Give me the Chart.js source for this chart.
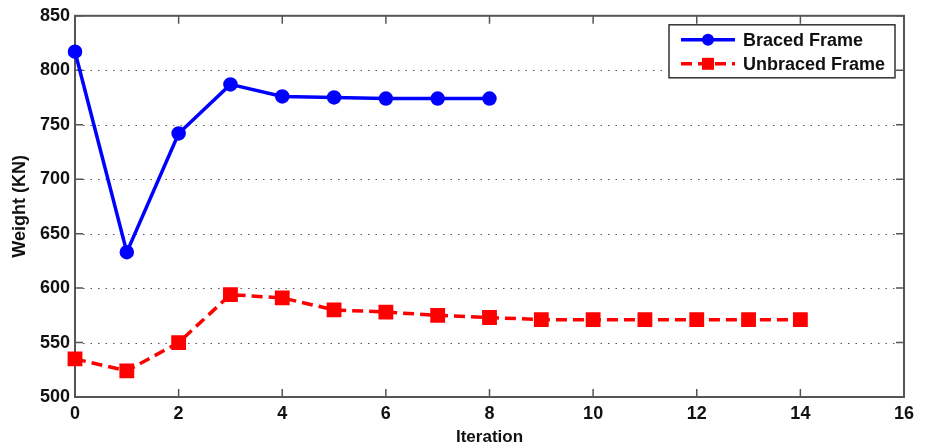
<!DOCTYPE html>
<html>
<head>
<meta charset="utf-8">
<script src="https://cdn.jsdelivr.net/npm/chart.js@4"></script>
<style>
  html, body { margin: 0; padding: 0; background: #fff; }
  #wrap { width: 930px; height: 448px; position: relative; }
</style>
</head>
<body>
<div id="wrap"><canvas id="weightChart"></canvas></div>
<script>
// Data
const iterations = [0, 1, 2, 3, 4, 5, 6, 7, 8, 9, 10, 11, 12, 13, 14];
const bracedWeight = [817, 633, 742, 787, 776, 775, 774, 774, 774];
const unbracedWeight = [535, 524, 550, 594, 591, 580, 578, 575, 573, 571, 571, 571, 571, 571, 571];
const seriesNames = ['Braced Frame', 'Unbraced Frame'];
const xTicks = [0, 2, 4, 6, 8, 10, 12, 14, 16];
const yTicks = [500, 550, 600, 650, 700, 750, 800, 850];

const FONT = 'Liberation Sans, Arial, Helvetica, sans-serif';

function toPoints(values) {
    return values.map((v, i) => ({ x: iterations[i], y: v }));
}

// Frame, inward ticks and dotted grid, matlab style
const framePlugin = {
    id: 'frame',
    beforeDatasetsDraw(chart) {
        const { ctx, chartArea: a, scales } = chart;
        const xs = scales.x, ys = scales.y;
        const tick = 8;
        ctx.save();
        // dotted horizontal grid
        ctx.strokeStyle = '#555';
        ctx.lineWidth = 1.2;
        ctx.setLineDash([1.5, 6]);
        yTicks.slice(1, -1).forEach(v => {
            const y = Math.round(ys.getPixelForValue(v)) + 0.5;
            ctx.beginPath();
            ctx.moveTo(a.left + tick, y);
            ctx.lineTo(a.right - tick, y);
            ctx.stroke();
        });
        ctx.setLineDash([]);
        // ticks
        ctx.strokeStyle = '#555';
        ctx.lineWidth = 1.5;
        xTicks.forEach(v => {
            const x = xs.getPixelForValue(v);
            ctx.beginPath();
            ctx.moveTo(x, a.bottom); ctx.lineTo(x, a.bottom - tick);
            ctx.moveTo(x, a.top); ctx.lineTo(x, a.top + tick);
            ctx.stroke();
        });
        yTicks.forEach(v => {
            const y = ys.getPixelForValue(v);
            ctx.beginPath();
            ctx.moveTo(a.left, y); ctx.lineTo(a.left + tick, y);
            ctx.moveTo(a.right, y); ctx.lineTo(a.right - tick, y);
            ctx.stroke();
        });
        // box
        ctx.lineWidth = 2;
        ctx.strokeRect(a.left, a.top, a.right - a.left, a.bottom - a.top);
        ctx.restore();
    }
};

// Legend box with line + marker samples
const legendPlugin = {
    id: 'boxLegend',
    afterDraw(chart) {
        const { ctx, chartArea: a } = chart;
        const left = a.right - 235, top = a.top + 9, w = 226, h = 53;
        ctx.save();
        ctx.fillStyle = '#fff';
        ctx.fillRect(left, top, w, h);
        ctx.strokeStyle = '#333';
        ctx.lineWidth = 1.5;
        ctx.strokeRect(left, top, w, h);
        chart.data.datasets.forEach((ds, i) => {
            const y = top + 15 + i * 24;
            const x0 = left + 12, x1 = left + 66;
            ctx.strokeStyle = ds.borderColor;
            ctx.lineWidth = ds.borderWidth;
            ctx.setLineDash(ds.borderDash || []);
            ctx.beginPath();
            ctx.moveTo(x0, y); ctx.lineTo(x1, y);
            ctx.stroke();
            ctx.setLineDash([]);
            ctx.fillStyle = ds.pointBackgroundColor;
            const cx = (x0 + x1) / 2;
            ctx.beginPath();
            if (ds.pointStyle === 'rect') {
                ctx.rect(cx - 6, y - 6, 12, 12);
            } else {
                ctx.arc(cx, y, 6, 0, Math.PI * 2);
            }
            ctx.fill();
            ctx.fillStyle = '#111';
            ctx.font = 'bold 18px ' + FONT;
            ctx.textBaseline = 'middle';
            ctx.fillText(ds.label, left + 74, y + 1);
        });
        ctx.restore();
    }
};

const chart = new Chart(document.getElementById('weightChart'), {
    type: 'line',
    data: {
        datasets: [{
            label: seriesNames[0],
            data: toPoints(bracedWeight),
            borderColor: '#0000ff',
            backgroundColor: '#0000ff',
            pointBackgroundColor: '#0000ff',
            pointBorderColor: '#0000ff',
            borderWidth: 3.5,
            pointStyle: 'circle',
            pointRadius: 5.5,
            tension: 0,
            clip: false
        }, {
            label: seriesNames[1],
            data: toPoints(unbracedWeight),
            borderColor: '#ff0000',
            backgroundColor: '#ff0000',
            pointBackgroundColor: '#ff0000',
            pointBorderColor: '#ff0000',
            borderWidth: 3.5,
            borderDash: [11, 6],
            pointStyle: 'rect',
            pointRadius: 8,
            tension: 0,
            clip: false
        }]
    },
    options: {
        responsive: true,
        maintainAspectRatio: false,
        animation: false,
        layout: { padding: { top: 14, right: 26, left: 0, bottom: 0 } },
        plugins: {
            legend: { display: false },
            tooltip: { enabled: false }
        },
        scales: {
            x: {
                type: 'linear',
                min: 0,
                max: 16,
                afterBuildTicks: s => { s.ticks = xTicks.map(v => ({ value: v })); },
                afterFit: s => { s.height = 51; },
                grid: { display: false, drawTicks: false },
                border: { display: false },
                ticks: {
                    color: '#111',
                    padding: 6,
                    maxRotation: 0,
                    font: { family: FONT, size: 18, weight: 'bold' }
                },
                title: {
                    display: true,
                    text: 'Iteration',
                    color: '#111',
                    padding: { top: 0, bottom: 0 },
                    font: { family: FONT, size: 17, weight: 'bold' }
                }
            },
            y: {
                min: 500,
                max: 850,
                afterBuildTicks: s => { s.ticks = yTicks.map(v => ({ value: v })); },
                afterFit: s => { s.width = 75; },
                grid: { display: false, drawTicks: false },
                border: { display: false },
                ticks: {
                    color: '#111',
                    padding: 5,
                    font: { family: FONT, size: 18, weight: 'bold' }
                },
                title: {
                    display: true,
                    text: 'Weight (KN)',
                    color: '#111',
                    padding: { top: 9, bottom: 0 },
                    font: { family: FONT, size: 18, weight: 'bold' }
                }
            }
        }
    },
    plugins: [framePlugin, legendPlugin]
});
</script>
</body>
</html>
